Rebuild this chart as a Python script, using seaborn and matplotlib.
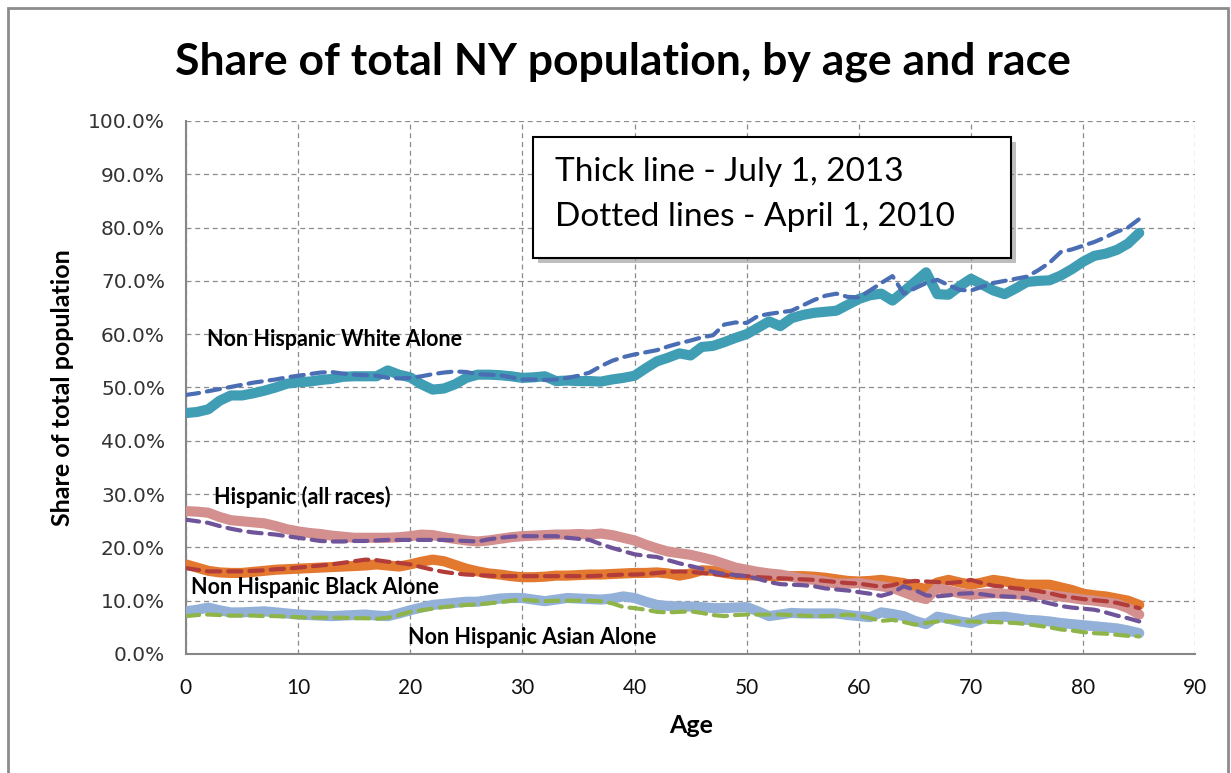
import numpy as np
import pandas as pd
import matplotlib
matplotlib.use("Agg")
import matplotlib.pyplot as plt
from matplotlib.patches import Rectangle
from matplotlib.ticker import PercentFormatter, MultipleLocator
import seaborn as sns

# Data (share of total population, %), ages 0..85
ages = list(range(86))

white_2013 = [45.2, 45.4, 45.9, 47.5, 48.5, 48.5, 48.9, 49.4, 50.0, 50.7,
              51.0, 51.1, 51.4, 51.6, 52.0, 52.1, 52.1, 52.1, 53.2, 52.4,
              51.9, 50.6, 49.6, 49.8, 50.6, 51.8, 52.4, 52.4, 52.3, 52.1,
              51.8, 51.9, 52.1, 51.2, 51.3, 51.2, 51.2, 51.1, 51.5, 51.8,
              52.2, 53.6, 54.9, 55.6, 56.4, 56.0, 57.6, 57.8, 58.5, 59.3,
              60.0, 61.2, 62.4, 61.5, 63.0, 63.6, 64.0, 64.2, 64.4, 65.5,
              66.6, 67.3, 67.6, 66.3, 68.0, 69.8, 71.6, 67.5, 67.4, 69.0,
              70.4, 69.3, 68.2, 67.5, 68.6, 69.8, 70.0, 70.1, 71.0, 72.2,
              73.6, 74.7, 75.1, 75.8, 77.0, 79.0]
white_2010 = [48.6, 48.9, 49.3, 49.7, 50.1, 50.5, 50.9, 51.2, 51.5, 51.9,
              52.2, 52.5, 52.8, 52.9, 52.6, 52.4, 52.3, 52.2, 51.8, 51.7,
              51.8, 52.1, 52.5, 52.8, 53.0, 52.9, 52.5, 52.4, 52.3, 51.9,
              51.5, 51.5, 51.4, 51.5, 51.8, 52.2, 52.8, 54.0, 55.0, 55.7,
              56.2, 56.6, 57.0, 57.7, 58.3, 58.8, 59.4, 59.8, 61.8, 62.2,
              62.1, 63.4, 63.8, 64.1, 64.4, 65.4, 66.4, 67.2, 67.6, 67.0,
              66.9, 68.2, 69.6, 70.9, 67.6, 68.6, 69.6, 70.2, 69.2, 68.3,
              68.2, 68.9, 69.6, 70.0, 70.4, 70.8, 72.0, 73.4, 75.4, 75.9,
              76.6, 77.3, 78.2, 79.2, 80.0, 81.6]
hisp_2013 = [26.8, 26.7, 26.5, 25.7, 25.1, 24.9, 24.7, 24.5, 24.0, 23.4,
             23.0, 22.7, 22.5, 22.2, 22.0, 21.8, 21.8, 21.8, 21.8, 21.9,
             22.1, 22.4, 22.3, 21.9, 21.6, 21.3, 21.1, 21.3, 21.6, 21.9,
             22.1, 22.2, 22.3, 22.4, 22.4, 22.5, 22.4, 22.6, 22.3, 21.8,
             21.3, 20.5, 19.8, 19.2, 18.9, 18.6, 18.1, 17.6, 16.9, 16.2,
             15.8, 15.4, 15.1, 14.9, 14.5, 14.1, 13.9, 13.6, 13.2, 13.2,
             13.3, 13.0, 12.7, 12.4, 11.6, 10.8, 10.3, 12.4, 11.9, 11.4,
             11.1, 11.3, 11.4, 11.3, 11.2, 11.1, 11.1, 11.0, 10.8, 10.5,
             10.2, 10.0, 9.7, 9.4, 8.6, 7.4]
hisp_2010 = [25.2, 24.9, 24.6, 24.0, 23.5, 23.1, 22.8, 22.6, 22.4, 22.1,
             21.8, 21.5, 21.2, 21.1, 21.1, 21.2, 21.2, 21.3, 21.4, 21.4,
             21.4, 21.4, 21.4, 21.4, 21.3, 21.2, 21.1, 21.5, 21.8, 22.0,
             22.1, 22.1, 22.1, 22.1, 21.8, 21.6, 21.4, 20.6, 19.9, 19.3,
             18.7, 18.4, 18.2, 17.6, 17.0, 16.5, 16.0, 15.4, 15.0, 14.8,
             14.6, 14.1, 13.5, 13.1, 13.0, 12.9, 12.7, 12.3, 12.1, 11.9,
             11.6, 11.3, 10.9, 11.5, 12.7, 12.0, 11.0, 10.8, 11.0, 11.3,
             11.4, 11.2, 10.9, 10.8, 10.7, 10.5, 10.0, 9.5, 9.0, 8.7,
             8.5, 8.3, 7.8, 7.2, 6.7, 6.1]
black_2013 = [16.8, 16.2, 15.6, 15.3, 15.2, 15.2, 15.4, 15.6, 15.8, 15.9,
              16.0, 16.1, 16.2, 16.3, 16.4, 16.5, 16.6, 16.8, 16.6, 16.4,
              16.8, 17.3, 17.7, 17.4, 16.7, 16.0, 15.5, 15.1, 14.9, 14.6,
              14.4, 14.4, 14.5, 14.7, 14.7, 14.8, 14.9, 14.9, 15.0, 15.1,
              15.2, 15.2, 15.3, 15.1, 14.7, 15.1, 15.7, 15.6, 15.2, 14.9,
              14.8, 14.7, 14.6, 14.6, 14.6, 14.6, 14.5, 14.3, 14.0, 13.7,
              13.6, 13.7, 13.9, 13.6, 13.3, 12.6, 12.2, 13.4, 13.9, 13.4,
              13.0, 13.4, 13.9, 13.6, 13.2, 13.0, 13.0, 13.0, 12.5, 12.0,
              11.3, 11.0, 10.8, 10.4, 10.0, 9.2]
black_2010 = [16.1, 15.8, 15.5, 15.5, 15.5, 15.5, 15.6, 15.7, 15.9, 16.0,
              16.2, 16.4, 16.6, 16.8, 17.1, 17.4, 17.7, 17.6, 17.3, 17.1,
              16.8, 16.3, 15.8, 15.4, 15.1, 14.9, 14.8, 14.7, 14.6, 14.6,
              14.6, 14.6, 14.6, 14.6, 14.6, 14.6, 14.6, 14.7, 14.8, 14.9,
              14.9, 15.0, 15.2, 15.4, 15.5, 15.4, 15.2, 15.0, 14.8, 14.7,
              14.6, 14.4, 14.3, 14.2, 14.1, 14.0, 13.9, 13.7, 13.5, 13.3,
              13.2, 12.9, 12.6, 12.9, 13.5, 13.7, 13.6, 13.5, 13.3, 13.5,
              13.9, 13.3, 12.8, 12.6, 12.3, 12.1, 11.8, 11.4, 10.9, 10.6,
              10.3, 10.1, 9.9, 9.6, 9.1, 8.6]
asian_2013 = [8.0, 8.3, 8.7, 8.2, 7.8, 7.8, 7.9, 8.0, 7.8, 7.6,
              7.4, 7.3, 7.2, 7.1, 7.2, 7.3, 7.4, 7.2, 7.1, 7.6,
              8.2, 8.7, 9.2, 9.4, 9.6, 9.8, 9.8, 10.1, 10.4, 10.5,
              10.5, 10.2, 9.9, 10.2, 10.5, 10.4, 10.3, 10.2, 10.4, 10.8,
              10.5, 9.8, 9.2, 9.0, 8.9, 8.9, 8.8, 8.6, 8.6, 8.7,
              8.8, 8.0, 7.1, 7.4, 7.7, 7.6, 7.6, 7.6, 7.6, 7.3,
              7.1, 6.9, 7.8, 7.5, 7.1, 6.2, 5.6, 7.0, 6.6, 6.1,
              5.8, 6.6, 6.9, 7.0, 6.7, 6.4, 6.3, 6.1, 5.8, 5.6,
              5.4, 5.2, 5.0, 4.8, 4.4, 3.9]
asian_2010 = [7.1, 7.3, 7.4, 7.3, 7.2, 7.2, 7.2, 7.1, 7.1, 7.0,
              6.9, 6.8, 6.8, 6.8, 6.8, 6.7, 6.7, 6.6, 6.8, 7.3,
              7.9, 8.2, 8.5, 8.8, 9.0, 9.2, 9.3, 9.5, 9.7, 10.0,
              10.2, 10.0, 9.9, 10.0, 10.0, 10.0, 10.0, 9.9, 9.5, 8.8,
              8.6, 8.3, 7.9, 7.8, 7.9, 8.0, 7.7, 7.3, 7.1, 7.3,
              7.4, 7.4, 7.4, 7.4, 7.3, 7.2, 7.1, 7.1, 7.2, 7.4,
              7.2, 6.7, 6.2, 6.4, 6.0, 5.5, 5.8, 6.1, 6.1, 6.1,
              6.1, 6.0, 6.0, 5.9, 5.8, 5.6, 5.3, 5.0, 4.6, 4.4,
              4.1, 3.9, 3.8, 3.6, 3.4, 3.3]

group_labels = ["Non Hispanic White Alone", "Hispanic (all races)",
                "Non Hispanic Black Alone", "Non Hispanic Asian Alone"]

sns.set_style("white")
plt.rcParams['font.family'] = ['Lato', 'DejaVu Sans']
plt.rcParams['text.color'] = 'black'
plt.rcParams['axes.labelcolor'] = 'black'

fig = plt.figure(figsize=(12.31, 7.73), dpi=100)
ax = fig.add_axes([0.151, 0.154, 0.820, 0.6895])

# thick lines (2013)
thick = [(white_2013, "#3f9db4"), (black_2013, "#e3782f"),
         (hisp_2013, "#d48f8f"), (asian_2013, "#93b1d8")]
for vals, col in thick:
    sns.lineplot(x=ages, y=vals, ax=ax, color=col, linewidth=7.3,
                 solid_capstyle="round", solid_joinstyle="round", zorder=3)

# dashed lines (2010)
dashed = [(white_2010, "#4a6eb4"), (black_2010, "#b23c3a"),
          (hisp_2010, "#70549a"), (asian_2010, "#8fb54a")]
for vals, col in dashed:
    sns.lineplot(x=ages, y=vals, ax=ax, color=col, linewidth=3,
                 linestyle=(0, (3.2, 1.9)), dash_capstyle="round", zorder=4)

ax.set_xlim(0, 90)
ax.set_ylim(0, 100)
ax.xaxis.set_major_locator(MultipleLocator(10))
ax.yaxis.set_major_locator(MultipleLocator(10))
ax.yaxis.set_major_formatter(PercentFormatter(decimals=1))

ax.grid(True, color="#8c8c8c", linestyle=(0, (4, 3)), linewidth=0.9)
for s in ["top", "right"]:
    ax.spines[s].set_visible(False)
for s in ["left", "bottom"]:
    ax.spines[s].set_color("#868686")
    ax.spines[s].set_linewidth(1.5)

ax.tick_params(axis="both", direction="out", length=7, color="#868686", width=1)
for t in ax.get_yticklabels():
    t.set_family("DejaVu Sans")
    t.set_fontsize(14.5)
    t.set_color("#333333")
for t in ax.get_xticklabels():
    t.set_fontsize(15)
    t.set_color("#111111")
ax.tick_params(axis="y", pad=8)
ax.tick_params(axis="x", pad=10)

ax.set_xlabel("Age", fontsize=18, fontweight="bold", labelpad=12)
ax.set_ylabel("Share of total population", fontsize=18, fontweight="bold", labelpad=10)

# series labels
label_pos = [(1.9, 59.0), (2.5, 29.5), (0.5, 12.4), (19.8, 3.1)]
for txt, (lx, ly) in zip(group_labels, label_pos):
    ax.text(lx, ly, txt, fontsize=15.5, fontweight="bold", ha="left", va="center", zorder=6)

# note box with shadow
ax.add_patch(Rectangle((0.349, 0.733), 0.473, 0.227, transform=ax.transAxes,
                       facecolor="#7f7f7f", edgecolor="none", alpha=0.5, zorder=7))
ax.add_patch(Rectangle((0.344, 0.743), 0.473, 0.227, transform=ax.transAxes,
                       facecolor="white", edgecolor="black", linewidth=1.5, zorder=8))
ax.text(0.366, 0.904, "Thick line - July 1, 2013", transform=ax.transAxes,
        fontsize=24, va="center", ha="left", zorder=9)
ax.text(0.366, 0.820, "Dotted lines - April 1, 2010", transform=ax.transAxes,
        fontsize=24, va="center", ha="left", zorder=9)

fig.text(0.506, 0.92, "Share of total NY population, by age and race",
         fontsize=32, fontweight="bold", ha="center", va="center")

# chart-area border
fig.patches.append(Rectangle((8 / 1231, -0.05), 1220 / 1231, 1.05 - 8 / 773,
                             transform=fig.transFigure, fill=False,
                             edgecolor="#8c8c8c", linewidth=2))

fig.savefig("out.png", dpi=100)
